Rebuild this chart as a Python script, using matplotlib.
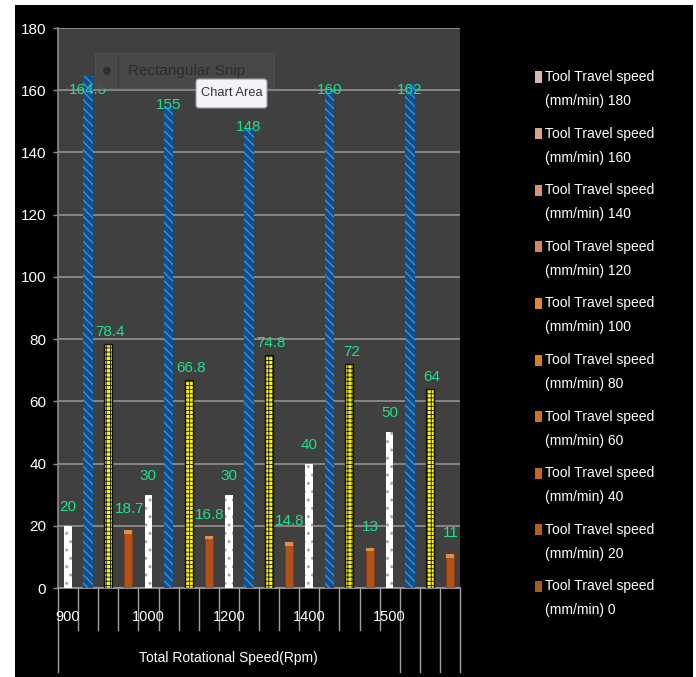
import matplotlib
matplotlib.use("Agg")
import matplotlib.pyplot as plt
from matplotlib.patches import Rectangle, FancyBboxPatch, Circle
import numpy as np

plt.rcParams['font.family'] = ['Liberation Sans', 'DejaVu Sans']

# ---------------- data ----------------
speeds = ["900", "1000", "1200", "1400", "1500"]
white_vals = [20, 30, 30, 40, 50]
blue_vals = [164.5, 155, 148, 160, 162]
yellow_vals = [78.4, 66.8, 74.8, 72, 64]
orange_vals = [18.7, 16.8, 14.8, 13, 11]
y_ticks = [0, 20, 40, 60, 80, 100, 120, 140, 160, 180]
axis_title = "Total Rotational Speed(Rpm)"
legend_speeds = ["180", "160", "140", "120", "100", "80", "60", "40", "20", "0"]
legend_colors = ["#d8b8b0", "#d8a48c", "#d8946c", "#d8884c", "#e08a26",
                 "#d8801e", "#d07418", "#c46818", "#b86018", "#a85a1c"]

W, H = 696, 677
fig = plt.figure(figsize=(W / 100, H / 100), dpi=100)
fig.patch.set_facecolor("white")
fig.add_artist(Rectangle((15 / W, 0), (693 - 15) / W, (677 - 5) / H,
                         transform=fig.transFigure, facecolor="black",
                         edgecolor="none", zorder=0))

def fx(px):
    return px / W

def fy(py):
    return 1 - py / H

ax = fig.add_axes([fx(58), fy(588), fx(460) - fx(58), fy(28) - fy(588)])
ax.set_facecolor("#404040")
ax.set_xlim(-0.5, 19.5)
ax.set_ylim(0, 180)
ax.set_yticks(y_ticks)
ax.yaxis.grid(True, color="#8c8c8c", linewidth=1.3)
ax.set_axisbelow(True)
for s in ["top", "right"]:
    ax.spines[s].set_visible(False)
ax.spines["left"].set_color("#8c8c8c")
ax.spines["bottom"].set_color("#9a9a9a")
ax.spines["left"].set_linewidth(1.2)
ax.spines["bottom"].set_linewidth(1.3)
ax.tick_params(axis="y", colors="#8c8c8c", labelcolor="white", labelsize=11,
               length=3.5, width=1.0, pad=5)
ax.tick_params(axis="x", length=0, labelbottom=False)

n = len(speeds)
g = np.arange(n) * 4

plt.rcParams['hatch.linewidth'] = 1.0
ax.bar(g + 0, white_vals, width=0.38, color="white", edgecolor="#a8a8a8",
       hatch="..", linewidth=0, zorder=3)
ax.bar(g + 1, blue_vals, width=0.48, color="#0d4f8f", edgecolor="#3d8fd6",
       hatch="\\\\\\\\", linewidth=0, zorder=3)
plt.rcParams['hatch.linewidth'] = 0.6
ax.bar(g + 2, yellow_vals, width=0.4, color="#fbf214", edgecolor="#1a1a08",
       hatch="++++", linewidth=0, zorder=3)
ax.bar(g + 2, yellow_vals, width=0.4, color="none", edgecolor="#101008",
       linewidth=1.0, zorder=4)
ax.bar(g + 3, orange_vals, width=0.4, color="#b0521a", edgecolor="#8a3c10",
       linewidth=0.6, zorder=3)
ax.bar(g + 3, [1.2] * n, bottom=np.array(orange_vals) - 1.2, width=0.4,
       color="#e0904a", linewidth=0, zorder=4)

lab_col = "#1fe08c"
lab_kw = dict(color=lab_col, fontsize=11, ha="center", va="center", zorder=6)
for i in range(n):
    ax.annotate(f"{white_vals[i]:g}", (g[i] + 0, white_vals[i]), xytext=(0, 19),
                textcoords="offset pixels", **lab_kw)
    ax.annotate(f"{blue_vals[i]:g}", (g[i] + 1, min(blue_vals[i], 159.8)), xytext=(0, 1),
                textcoords="offset pixels", **lab_kw)
    ax.annotate(f"{yellow_vals[i]:g}", (g[i] + 2, yellow_vals[i]), xytext=(2, 12),
                textcoords="offset pixels", **lab_kw)
    ax.annotate(f"{orange_vals[i]:g}", (g[i] + 3, orange_vals[i]), xytext=(1, 21),
                textcoords="offset pixels", **lab_kw)

# multi-level category axis
trans = ax.get_xaxis_transform()
for k in range(21):
    long_line = k == 0 or k >= 17
    yb = -84 / 560 if long_line else -42 / 560
    ax.plot([k - 0.5, k - 0.5], [0, yb], color="#a0a0a0", lw=1.0,
            transform=trans, clip_on=False, zorder=2)
for i, s in enumerate(speeds):
    ax.text(g[i], -29 / 560, s, transform=trans, ha="center", va="center",
            color="white", fontsize=10.5)
ax.text(8, -70 / 560, axis_title, transform=trans, ha="center", va="center",
        color="white", fontsize=10)

# legend
for i, sp in enumerate(legend_speeds):
    y1 = 77 + i * 56.6
    fig.add_artist(Rectangle((fx(534.5), fy(y1 + 5.5)), 7 / W, 11 / H,
                             transform=fig.transFigure, facecolor=legend_colors[i],
                             edgecolor="none"))
    fig.text(fx(545), fy(y1), "Tool Travel speed", color="white", fontsize=10,
             ha="left", va="center")
    fig.text(fx(545), fy(y1 + 24), f"(mm/min) {sp}", color="white", fontsize=10,
             ha="left", va="center")

# screen overlays present in the source image
fig.add_artist(Rectangle((fx(95), fy(88)), (274 - 95) / W, 35 / H,
                         transform=fig.transFigure, facecolor="#4a4a4a",
                         edgecolor="#505050", alpha=0.9, zorder=5))
fig.add_artist(Circle((fx(107), fy(71)), 4 / W, transform=fig.transFigure,
                      facecolor="#2e2e2e", edgecolor="none", zorder=6))
fig.add_artist(plt.Line2D([fx(118), fx(118)], [fy(56), fy(86)], transform=fig.transFigure,
                          color="#3a3a3a", lw=0.8, zorder=6))
fig.text(fx(128), fy(71), "Rectangular Snip", color="#2c2c2c", fontsize=11,
         ha="left", va="center", zorder=6)
fig.add_artist(FancyBboxPatch((fx(196), fy(108)), (267 - 196) / W, 29 / H,
                              boxstyle="round,pad=0,rounding_size=0.004",
                              transform=fig.transFigure, facecolor="#f4f4f8",
                              edgecolor="#9a9aa0", lw=0.8, zorder=7))
fig.text(fx(231.5), fy(93.5), "Chart Area", color="#333333", fontsize=9.3,
         ha="center", va="center", zorder=8)

fig.savefig("out.png", dpi=100, facecolor=fig.get_facecolor())
